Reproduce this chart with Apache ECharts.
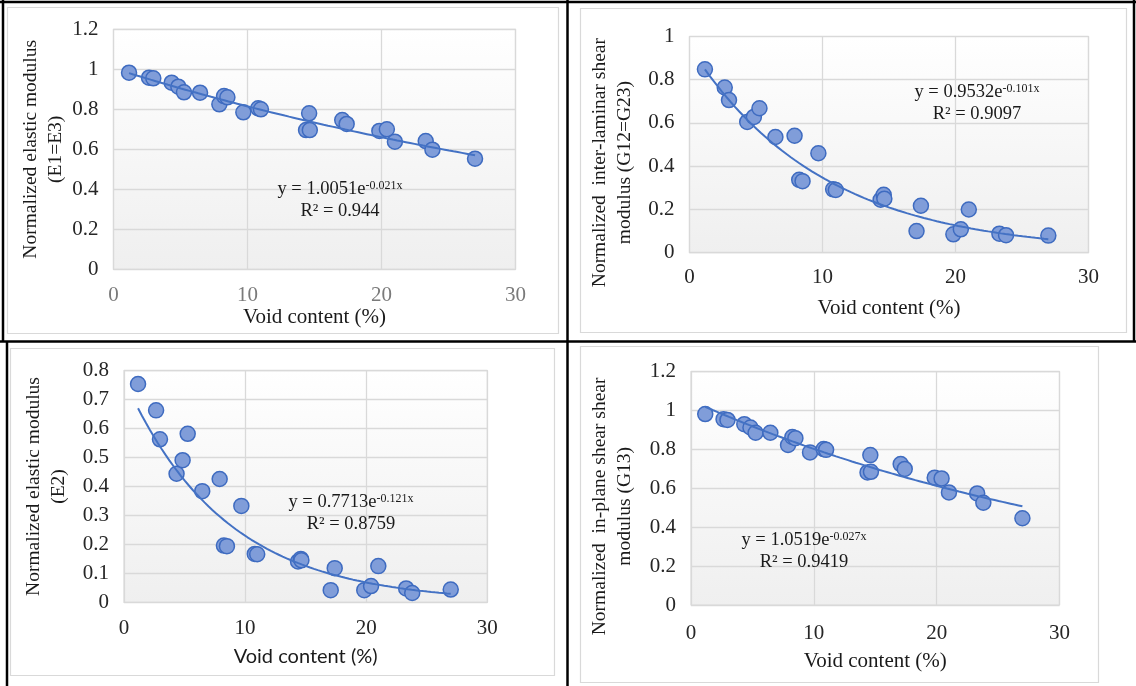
<!DOCTYPE html>
<html>
<head>
<meta charset="utf-8">
<style>
  html, body { margin: 0; padding: 0; background: #ffffff; }
  #chart { width: 1136px; height: 686px; }
</style>
<script src="https://cdn.jsdelivr.net/npm/echarts@6/dist/echarts.min.js"></script>
</head>
<body>
<div id="chart"></div>
<script>
// Void content (%) of the tested laminates, shared by all four panels
const voidContent = [1.16, 2.65, 2.97, 4.34, 4.84, 5.26, 6.46, 7.9, 8.25, 8.5, 9.69, 10.8,
                     11.0, 14.37, 14.6, 14.65, 17.07, 17.4, 19.84, 20.4, 21.0, 23.3, 23.8, 26.98];

// Normalized moduli measured at each void content
const modE1E3 = [0.983, 0.958, 0.955, 0.933, 0.913, 0.885, 0.883, 0.825, 0.866, 0.86, 0.785, 0.805,
                 0.80, 0.696, 0.78, 0.696, 0.746, 0.727, 0.692, 0.70, 0.638, 0.641, 0.598, 0.553];
const modG12G23 = [0.848, 0.764, 0.706, 0.605, 0.628, 0.668, 0.535, 0.541, 0.337, 0.331, 0.46, 0.293,
                   0.29, 0.245, 0.268, 0.25, 0.10, 0.217, 0.085, 0.108, 0.20, 0.088, 0.081, 0.079];
const modE2 = [0.754, 0.663, 0.563, 0.444, 0.491, 0.582, 0.384, 0.426, 0.196, 0.194, 0.333, 0.167,
               0.166, 0.141, 0.150, 0.145, 0.042, 0.118, 0.042, 0.056, 0.125, 0.048, 0.032, 0.044];
const modG13 = [0.982, 0.956, 0.952, 0.93, 0.913, 0.886, 0.886, 0.823, 0.864, 0.858, 0.785, 0.802,
                0.798, 0.682, 0.771, 0.685, 0.725, 0.70, 0.655, 0.651, 0.579, 0.574, 0.526, 0.446];

// Exponential trendlines y = a * e^(b x) and their R² values
const fitA = [1.0051, 0.9532, 0.7713, 1.0519];
const fitB = [-0.021, -0.101, -0.121, -0.027];
const fitR2 = ['0.944', '0.9097', '0.8759', '0.9419'];

// Axis titles
const yTitles = [
  'Normalized elastic modulus\n(E1=E3)',
  'Normalized  inter-laminar shear\nmodulus (G12=G23)',
  'Normalized elastic modulus\n(E2)',
  'Normalized  in-plane shear shear\nmodulus (G13)'
];
const xTitle = 'Void content (%)';
const yMax = [1.2, 1, 0.8, 1.2];
const yStep = [0.2, 0.2, 0.1, 0.2];
const xMax = 30;
const xStep = 10;

const panelValues = [modE1E3, modG12G23, modE2, modG13];

// Layout of each panel (plot rectangle, axis spacing, annotation spots)
const panels = [
  { left: 113.5, top: 29.3, width: 402, height: 240, xMargin: 16, yMargin: 15, xGap: 37, yGap: 40, yShift: 0,
    xLabelColor: '#7a7a7a', xFont: 'Liberation Serif', eq: [340, 200] },
  { left: 689.5, top: 34, width: 399, height: 218.7, xMargin: 14, yMargin: 15, xGap: 45, yGap: 52, yShift: 36,
    xLabelColor: '#262626', xFont: 'Liberation Serif', eq: [977, 103] },
  { left: 124, top: 370.7, width: 363.3, height: 231.6, xMargin: 16, yMargin: 15, xGap: 44, yGap: 53, yShift: 0,
    xLabelColor: '#262626', xFont: 'Lato', eq: [351, 513] },
  { left: 691, top: 371.7, width: 368.5, height: 233.3, xMargin: 18, yMargin: 15, xGap: 46, yGap: 54, yShift: 36,
    xLabelColor: '#262626', xFont: 'Liberation Serif', eq: [804, 551] }
];

const serif = 'Liberation Serif';
const plotFill = {
  type: 'linear', x: 0, y: 0, x2: 0, y2: 1,
  colorStops: [{ offset: 0, color: '#ffffff' }, { offset: 1, color: '#efefef' }]
};

const grids = [], xAxes = [], yAxes = [], series = [], graphics = [];

panels.forEach((p, i) => {
  grids.push({
    left: p.left, top: p.top, width: p.width, height: p.height,
    show: true, backgroundColor: plotFill, borderColor: '#d9d9d9', borderWidth: 1.2
  });
  xAxes.push({
    gridIndex: i, type: 'value', min: 0, max: xMax, interval: xStep,
    name: xTitle, nameLocation: 'middle', nameGap: p.xGap,
    nameTextStyle: { fontFamily: p.xFont, fontSize: p.xFont === 'Lato' ? 20 : 21, color: '#1a1a1a' },
    axisLine: { show: false }, axisTick: { show: false },
    axisLabel: { margin: p.xMargin, fontFamily: serif, fontSize: 21, color: p.xLabelColor },
    splitLine: { show: true, lineStyle: { color: '#d9d9d9', width: 1.3 } }
  });
  yAxes.push({
    gridIndex: i, type: 'value', min: 0, max: yMax[i], interval: yStep[i],
    name: yTitles[i], nameLocation: 'middle', nameRotate: 90, nameGap: p.yGap,
    nameTextStyle: { fontFamily: serif, fontSize: 19.5, lineHeight: 25, color: '#1a1a1a',
                     padding: [0, p.yShift, 0, 0] },
    axisLine: { show: false }, axisTick: { show: false },
    axisLabel: { margin: p.yMargin, fontFamily: serif, fontSize: 21, color: '#262626' },
    splitLine: { show: true, lineStyle: { color: '#d9d9d9', width: 1.3 } }
  });

  series.push({
    type: 'scatter', xAxisIndex: i, yAxisIndex: i,
    data: voidContent.map((x, k) => [x, panelValues[i][k]]),
    symbol: 'circle', symbolSize: 15, z: 2,
    itemStyle: { color: '#809dd9', borderColor: '#3e6bc0', borderWidth: 1.5, opacity: 1 }
  });

  // trendline evaluated from the fitted coefficients across the data range
  const xLo = Math.min(...voidContent), xHi = Math.max(...voidContent);
  const trend = [];
  for (let s = 0; s <= 80; s++) {
    const x = xLo + (xHi - xLo) * s / 80;
    trend.push([x, fitA[i] * Math.exp(fitB[i] * x)]);
  }
  series.push({
    type: 'line', xAxisIndex: i, yAxisIndex: i, data: trend,
    showSymbol: false, smooth: false, z: 3, silent: true,
    lineStyle: { color: '#4472c4', width: 2 }
  });

  graphics.push({
    type: 'text', x: p.eq[0], y: p.eq[1], z: 10,
    style: {
      text: '{n|y = ' + fitA[i].toFixed(4) + 'e}{s|' + fitB[i] + 'x}\n{n|R² = ' + fitR2[i] + '}',
      align: 'center', verticalAlign: 'middle',
      rich: {
        n: { fontFamily: serif, fontSize: 18.5, lineHeight: 22, fill: '#1a1a1a' },
        s: { fontFamily: serif, fontSize: 12, lineHeight: 22, fill: '#1a1a1a',
             verticalAlign: 'bottom', padding: [0, 0, 8, 0] }
      }
    }
  });
});

// chart-area outlines of the four panels
[[7, 7, 551, 326], [580, 8, 546, 324], [10, 348, 544, 327], [580, 346, 518, 336]].forEach(r => {
  graphics.push({
    type: 'rect', z: 0, silent: true,
    shape: { x: r[0] + 0.5, y: r[1] + 0.5, width: r[2], height: r[3] },
    style: { fill: 'transparent', stroke: '#d9d9d9', lineWidth: 1.2 }
  });
});

// table rules around the panels
[[0, 2, 1136, 2], [3, 0, 3, 341], [7, 341, 7, 686], [567.5, 0, 567.5, 686],
 [0, 341.5, 1136, 341.5], [1134, 0, 1134, 341]].forEach(l => {
  graphics.push({
    type: 'line', z: 20, silent: true,
    shape: { x1: l[0], y1: l[1], x2: l[2], y2: l[3] },
    style: { stroke: '#000000', lineWidth: 2.5 }
  });
});

const chart = echarts.init(document.getElementById('chart'), null, { renderer: 'canvas' });
chart.setOption({
  animation: false,
  backgroundColor: '#ffffff',
  grid: grids,
  xAxis: xAxes,
  yAxis: yAxes,
  series: series,
  graphic: graphics
});
</script>
</body>
</html>
